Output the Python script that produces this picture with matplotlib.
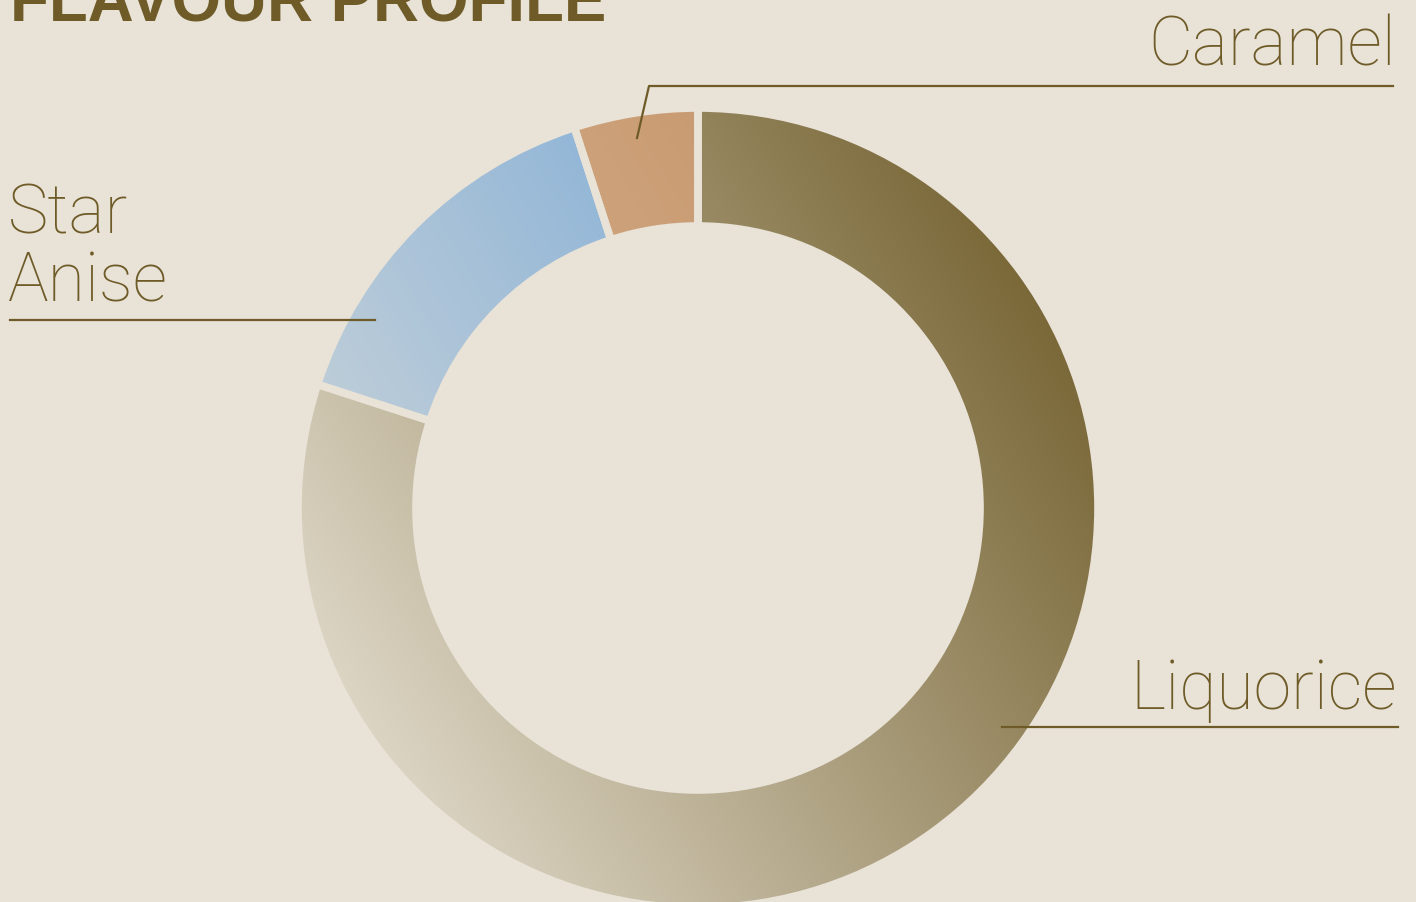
import numpy as np
import matplotlib
matplotlib.use("Agg")
import matplotlib.pyplot as plt
from matplotlib.colors import LinearSegmentedColormap

labels = ["Liquorice", "Star Anise", "Caramel"]
values = [80, 15, 5]
light_cols = ["#dcd5c4", "#bdcdd9", "#cfa57f"]
dark_cols = ["#7a6838", "#94b7d7", "#c99b72"]

BG = "#e8e2d7"
INK = "#6e5b27"
W, H = 1416, 902
cx, cy = 698, H - 508
r_out, ring = 400, 118

fig = plt.figure(figsize=(W / 100, H / 100), dpi=100, facecolor=BG)
ax = fig.add_axes([0, 0, 1, 1])
ax.set_facecolor(BG)

wedges, _ = ax.pie(values, center=(cx, cy), radius=r_out, startangle=90,
                   counterclock=False,
                   wedgeprops=dict(width=ring, facecolor="none",
                                   edgecolor=BG, linewidth=5.5))
ax.set_xlim(0, W)
ax.set_ylim(0, H)
ax.set_aspect("auto")
ax.axis("off")

# gradient fill clipped to each wedge
theta = np.deg2rad(30)
gx, gy = np.meshgrid(np.linspace(0, W, W // 2), np.linspace(0, H, H // 2))
tt = (gx - cx) * np.cos(theta) + (gy - cy) * np.sin(theta)
for w, lc, dc in zip(wedges, light_cols, dark_cols):
    v = w.get_path().vertices
    tv = (v[:, 0] - cx) * np.cos(theta) + (v[:, 1] - cy) * np.sin(theta)
    norm = np.clip((tt - tv.min()) / (tv.max() - tv.min()), 0, 1)
    cmap = LinearSegmentedColormap.from_list("g", [lc, dc])
    im = ax.imshow(norm, cmap=cmap, extent=(0, W, 0, H), origin="lower",
                   interpolation="bilinear", zorder=1, aspect="auto")
    im.set_clip_path(w)
    w.set_zorder(2)

# labels
lab_font = dict(family=["Roboto", "DejaVu Sans"], fontweight="light",
                color=INK, fontsize=49)
ax.text(1396, H - 66, "Caramel", ha="right", va="baseline", **lab_font)
ax.text(1397, H - 709, "Liquorice", ha="right", va="baseline", **lab_font)
ax.text(8, H - 234, "Star", ha="left", va="baseline", **lab_font)
ax.text(8, H - 302, "Anise", ha="left", va="baseline", **lab_font)

lw = 1.6
ax.plot([637, 649, 1393], [H - 138, H - 86, H - 86], color=INK, lw=lw)
ax.plot([1002, 1398], [H - 727, H - 727], color=INK, lw=lw)
ax.plot([10, 375], [H - 320, H - 320], color=INK, lw=lw)

# title, cropped at the top edge
title = ax.text(10, H - 22, "FLAVOUR PROFILE", ha="left", va="baseline",
                family=["Liberation Sans", "DejaVu Sans"], fontweight="bold",
                color=INK, fontsize=60)
fig.canvas.draw()
bb = title.get_window_extent()
title.set_fontsize(60 * 597 / bb.width)

fig.savefig("out.png", dpi=100, facecolor=BG)
